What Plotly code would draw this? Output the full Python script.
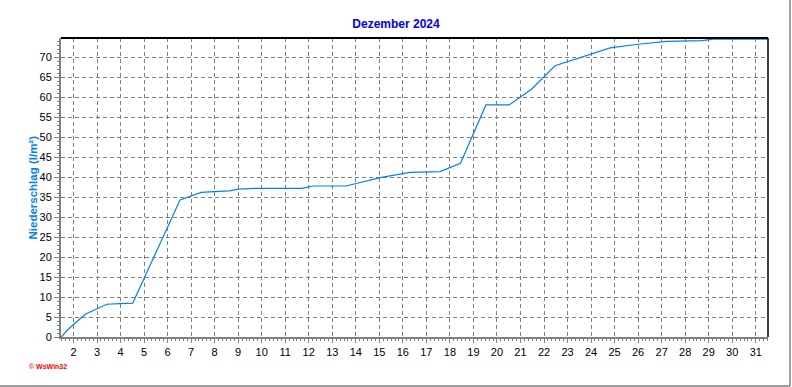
import plotly.graph_objects as go

# Time position (day of month, fractional) and cumulative precipitation (l/m²)
day_pos = [1.48, 1.79, 2.50, 2.78, 3.42, 3.98, 4.52, 6.53, 7.43, 7.99, 8.62, 9.01, 9.72,
           11.71, 12.20, 13.59, 15.03, 16.30, 17.58, 18.45, 19.53, 20.52, 21.48, 22.47,
           23.53, 23.96, 24.81, 26.00, 27.22, 28.71, 29.20, 31.52]
precip = [0.0, 2.0, 5.7, 6.5, 8.2, 8.35, 8.5, 34.3, 36.2, 36.4, 36.6, 37.0, 37.2,
          37.2, 37.8, 37.8, 39.9, 41.2, 41.4, 43.5, 58.1, 58.1, 62.1, 67.9,
          70.0, 70.9, 72.4, 73.3, 74.0, 74.2, 74.6, 74.6]

x_ticks = list(range(2, 32))
y_ticks = list(range(0, 75, 5))

title_text = "Dezember 2024"
y_title = "Niederschlag (l/m²)"
credit = "© WsWin32"

FONT = "Liberation Sans, Arial, sans-serif"
GRID = "#808080"

fig = go.Figure()
fig.add_trace(go.Scatter(
    x=day_pos, y=precip, mode="lines",
    line=dict(color="#0080FF", width=1.2),
    hoverinfo="x+y", showlegend=False,
))

fig.update_layout(
    width=792, height=387,
    margin=dict(l=61, r=24, t=38, b=50),
    paper_bgcolor="white", plot_bgcolor="white",
    font=dict(family=FONT, size=11, color="black"),
    title=dict(text="<b>" + title_text + "</b>", x=0.5, xref="container",
               y=1 - 24 / 387, yref="container", yanchor="middle", xanchor="center",
               font=dict(family=FONT, size=12, color="#0000FF")),
    xaxis=dict(
        range=[1.47, 31.52], tickvals=x_ticks, ticktext=[str(v) for v in x_ticks],
        showgrid=True, gridcolor=GRID, griddash="4px,3px", gridwidth=1,
        showline=True, linecolor=GRID, linewidth=2,
        ticks="outside", ticklen=4, tickcolor=GRID, tickwidth=1,
        zeroline=False, fixedrange=True,
        tickfont=dict(size=11, color="black"),
        minor=dict(dtick=1 / 6, tick0=2, ticks="outside", ticklen=2, tickcolor=GRID, showgrid=False),
    ),
    yaxis=dict(
        range=[0, 74.86], tickvals=y_ticks, ticktext=[str(v) for v in y_ticks],
        showgrid=True, gridcolor=GRID, griddash="4px,3px", gridwidth=1,
        showline=True, linecolor=GRID, linewidth=2,
        ticks="outside", ticklen=5, tickcolor=GRID, tickwidth=1,
        zeroline=False, fixedrange=True,
        tickfont=dict(size=11, color="black"),
        minor=dict(dtick=1, tick0=0, ticks="outside", ticklen=2, tickcolor=GRID, showgrid=False),
    ),
    shapes=[
        dict(type="line", xref="paper", yref="paper", x0=0, x1=1, y0=1, y1=1,
             line=dict(color="black", width=2)),
        dict(type="line", xref="paper", yref="paper", x0=1, x1=1, y0=0, y1=1,
             line=dict(color="black", width=1.5)),
        dict(type="line", xref="paper", yref="paper", x0=(790 - 61) / 707, x1=(790 - 61) / 707,
             y0=(337 - 386) / 299, y1=(337 + 5) / 299, line=dict(color="#A0A0A0", width=2)),
        dict(type="line", xref="paper", yref="paper", x0=-61 / 707, x1=(790 - 61) / 707,
             y0=(337 - 386) / 299, y1=(337 - 386) / 299, line=dict(color="#A0A0A0", width=2)),
    ],
    annotations=[
        dict(text="<b>" + y_title + "</b>", xref="paper", yref="paper", x=0, y=0.5,
             xanchor="center", yanchor="middle", xshift=-29, textangle=-90, showarrow=False,
             font=dict(family=FONT, size=11.5, color="#0080FF")),
        dict(text="<b>" + credit + "</b>", xref="paper", yref="paper", x=-34 / 707,
             y=(337 - 366) / 299, xanchor="left", yanchor="middle", showarrow=False,
             font=dict(family=FONT, size=7, color="#FF0000")),
    ],
)

fig.write_html("out.html", config={"displayModeBar": False},
               post_script="document.body.style.margin='0';document.body.style.overflow='hidden';")
